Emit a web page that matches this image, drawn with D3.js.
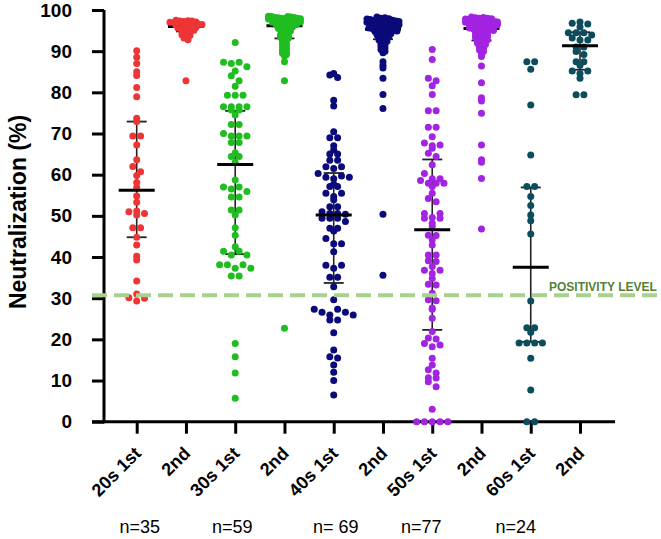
<!DOCTYPE html>
<html><head><meta charset="utf-8">
<script src="https://cdn.jsdelivr.net/npm/d3@7"></script>
<style>body{margin:0;background:#fff} svg{display:block}</style>
</head><body>
<svg id="c" width="661" height="539"></svg>
<script>
// ---------- DATA ----------
const categories = ["20s 1st","2nd","30s 1st","2nd","40s 1st","2nd","50s 1st","2nd","60s 1st","2nd"];
const yTicks = [0,10,20,30,40,50,60,70,80,90,100];
const nLabels = ["n=35","n=59","n= 69","n=77","n=24"];
const positivityLevel = 30.7;
const positivityLabel = "POSITIVITY LEVEL";
const yTitle = "Neutralization (%)";

const v20s1 = [90.1,88.5,87.0,85.0,84.1,81.2,78.9,73.7,72.9,69.4,69.4,67.2,63.6,62.0,60.7,59.8,58.1,56.9,54.8,53.3,51.2,51.0,50.6,50.2,47.1,47.1,44.8,42.9,40.2,39.3,34.2,31.0,30.1,30.0,29.3];
const v20s2 = [97.5,97.4,97.3,97.3,97.2,97.1,97.0,97.0,96.9,96.8,96.7,96.6,96.6,96.5,96.4,96.3,96.2,96.1,96.0,95.9,95.8,95.6,95.4,95.3,95.1,94.9,94.7,94.5,94.3,94.0,93.8,93.5,93.2,92.8,82.8];
const v30s1 = [92.1,87.3,87.3,87.0,86.2,85.2,84.0,82.8,81.5,79.3,79.3,79.3,76.5,76.5,76.5,76.5,75.7,75.7,74.5,72.2,72.2,70.0,69.4,69.4,69.4,67.8,67.8,65.3,64.4,64.4,63.0,58.7,57.0,57.0,56.5,55.9,54.6,54.6,51.4,51.4,50.2,47.1,45.3,42.5,41.4,41.4,40.5,40.5,38.1,38.1,38.1,37.3,37.3,35.4,35.4,19.0,15.8,11.8,5.7];
const v30s2 = [98.5,98.4,98.4,98.3,98.2,98.2,98.1,98.0,98.0,97.9,97.9,97.8,97.8,97.7,97.7,97.6,97.5,97.4,97.3,97.2,97.1,97.0,96.9,96.8,96.7,96.6,96.5,96.4,96.3,96.2,96.1,95.9,95.7,95.5,95.3,95.1,94.9,94.6,94.3,94.0,93.8,93.6,93.4,93.2,92.9,92.5,92.1,91.7,91.3,91.0,90.6,90.2,89.8,89.5,89.2,88.8,87.4,82.8,22.7];
const v40s1 = [84.6,84.2,83.6,78.1,76.7,70.4,69.0,69.0,67.0,66.0,65.0,65.0,63.5,63.5,61.9,61.9,61.5,60.3,59.4,59.4,59.7,59.0,57.7,57.1,57.1,55.5,55.5,54.7,53.9,52.2,52.2,51.0,50.6,50.6,50.4,49.4,49.4,49.4,48.6,47.0,47.0,46.3,44.5,43.2,43.2,41.3,38.0,38.0,37.3,35.1,35.1,32.8,29.6,27.3,27.3,26.6,26.6,25.9,25.9,24.7,24.7,21.6,17.4,15.8,15.5,13.8,12.0,10.0,6.5];
const v40s2 = [98.3,98.1,98.0,97.9,97.8,97.8,97.7,97.6,97.5,97.5,97.4,97.3,97.2,97.2,97.1,97.0,96.9,96.9,96.8,96.7,96.6,96.5,96.4,96.4,96.3,96.2,96.1,96.0,95.9,95.8,95.7,95.6,95.5,95.4,95.3,95.2,95.1,95.0,94.9,94.8,94.7,94.5,94.3,94.2,94.0,93.9,93.8,93.6,93.4,93.2,93.0,92.7,92.4,92.1,91.8,91.5,91.2,90.8,90.4,90.0,89.6,87.4,86.6,85.9,83.4,79.5,76.1,50.4,35.6];
const v50s1 = [90.4,88.0,83.4,82.8,81.6,79.5,75.5,75.5,71.5,71.5,69.2,67.7,67.2,67.0,66.4,65.2,64.4,62.4,60.3,59.0,59.0,58.6,57.9,57.9,57.9,57.1,55.5,54.2,53.4,50.6,50.6,49.6,49.4,49.4,48.2,47.4,45.3,45.2,44.2,42.9,40.5,40.5,39.1,38.9,37.7,36.8,36.8,36.0,34.8,33.4,33.2,31.2,29.6,29.4,27.6,27.3,25.1,21.9,20.3,20.1,19.0,18.6,18.2,15.4,13.8,12.6,11.8,10.7,10.6,9.7,8.5,3.0,0,0,0,0,0];
const v50s2 = [98.3,98.2,98.1,98.0,98.0,97.9,97.8,97.8,97.7,97.6,97.6,97.5,97.4,97.4,97.3,97.2,97.2,97.1,97.0,97.0,96.9,96.8,96.8,96.7,96.6,96.6,96.5,96.5,96.4,96.3,96.2,96.1,96.0,95.9,95.8,95.7,95.6,95.5,95.4,95.3,95.2,95.0,94.9,94.7,94.5,94.4,94.2,94.0,93.8,93.7,93.6,93.4,93.2,93.0,92.8,92.5,92.2,92.0,91.9,91.6,91.3,91.0,90.6,90.3,89.9,89.4,88.7,86.4,82.3,78.7,77.9,74.9,67.2,63.6,63.0,59.1,46.8];
const v60s1 = [87.4,87.4,85.6,76.9,64.8,57.1,57.1,54.7,52.5,50.2,48.8,45.6,29.3,22.8,22.8,21.7,19.1,19.1,19.1,19.1,15.4,7.7,0,0];
const v60s2 = [97.1,96.8,96.6,95.9,94.5,94.5,94.5,93.9,93.2,92.7,92.7,91.0,91.0,89.9,89.2,87.4,87.4,86.6,85.2,85.2,84.6,83.4,79.4,79.4];

const groupValues = [v20s1,v20s2,v30s1,v30s2,v40s1,v40s2,v50s1,v50s2,v60s1,v60s2];
const medians = [56.2,96.0,62.5,96.2,50.2,95.3,46.6,95.5,37.5,91.3];
const q1 = [44.8,94.8,40.7,93.1,33.7,92.9,22.3,92.6,19.4,85.5];
const q3 = [72.9,97.0,75.5,97.6,60.4,97.3,63.7,97.5,56.9,94.6];

// ---------- STYLE / LAYOUT ----------
const colors = ["#ee3535","#ee3535","#20bd20","#20bd20","#0a0a7a","#0a0a7a","#a323e2","#a323e2","#0b4d5c","#0b4d5c"];
const dense = [false,true,false,true,false,true,false,true,false,false];
const nOffsets = [3,-3,2,-11,-15];
const R = 3.5;
const FONT = "'Liberation Sans', Arial, sans-serif";

const svg = d3.select("#c");
const ids = categories.map((c,i)=>i);
const x = d3.scalePoint().domain(ids).range([136.7, 580]);
const y = d3.scaleLinear().domain([0,100]).range([421.7, 10]);

// y axis
const yAxis = d3.axisLeft(y).tickValues(yTicks).tickSize(12).tickPadding(20).tickFormat(d3.format("d"));
const gy = svg.append("g").attr("transform","translate(104,0)").call(yAxis);
gy.select(".domain").attr("stroke","#000").attr("stroke-width",3).attr("d","M0,"+(y(100))+"V"+(y(0)+1.5));
gy.selectAll(".tick line").attr("stroke","#000").attr("stroke-width",3);
gy.selectAll(".tick text").attr("font-family",FONT).attr("font-weight","bold").attr("font-size",19).attr("fill","#000");

// x axis
const xAxis = d3.axisBottom(x).tickSize(12).tickFormat(()=>"");
const gx = svg.append("g").attr("transform","translate(0,"+y(0)+")").call(xAxis);
gx.select(".domain").attr("stroke","#000").attr("stroke-width",3).attr("d","M92,0H615");
gx.selectAll(".tick line").attr("stroke","#000").attr("stroke-width",3);

// x labels
svg.append("g").selectAll("text").data(ids).join("text")
  .attr("transform", d=>`translate(${x(d)+1},450) rotate(-45)`)
  .attr("text-anchor","end").attr("dy","0.35em")
  .attr("font-family",FONT).attr("font-weight","bold").attr("font-size",18)
  .text(d=>categories[d]);

// n labels
svg.append("g").selectAll("text").data(nLabels).join("text")
  .attr("x",(d,i)=>x(i*2)+nOffsets[i]).attr("y",533)
  .attr("text-anchor","middle").attr("font-family",FONT).attr("font-size",18)
  .text(d=>d);

// y title
svg.append("text").attr("transform","translate(26,212) rotate(-90)")
  .attr("text-anchor","middle").attr("font-family",FONT).attr("font-weight","bold").attr("font-size",23)
  .text(yTitle);

// summary lines (median + IQR)
const sg = svg.append("g");
ids.forEach(i=>{
  const cx = x(i);
  sg.append("line").attr("x1",cx).attr("x2",cx).attr("y1",y(q3[i])).attr("y2",y(q1[i])).attr("stroke","#222").attr("stroke-width",1.6);
  [q1[i],q3[i]].forEach(q=>sg.append("line").attr("x1",cx-10).attr("x2",cx+10).attr("y1",y(q)).attr("y2",y(q)).attr("stroke","#222").attr("stroke-width",1.8));
});

// dots
function layout(vals, cx, opt){
  const pts = vals.map(v=>({v, y:y(v)})).sort((a,b)=>a.y-b.y);
  const bins = d3.group(pts, p=>Math.floor((p.y - y(100))/opt.h));
  for (const arr of bins.values()){
    const n = arr.length;
    const s = n>1 ? Math.min(opt.s, 2*opt.M/(n-1)) : 0;
    // alternate order so rows are not diagonal
    const order = arr.map((p,i)=>i).sort((a,b)=>(a%2)-(b%2) || a-b);
    order.forEach((pi,slot)=>{ arr[pi].x = cx + (slot-(n-1)/2)*s; });
  }
  return pts;
}
const dg = svg.append("g");
ids.forEach(i=>{
  const opt = dense[i] ? {h:3, s:4, M:16} : {h:6.5, s:7.8, M:20};
  const pts = layout(groupValues[i], x(i), opt);
  dg.append("g").selectAll("circle").data(pts).join("circle")
    .attr("cx",p=>p.x).attr("cy",p=>p.y).attr("r",R).attr("fill",colors[i]);
});

// medians
const mg = svg.append("g");
ids.forEach(i=>{
  const cx = x(i);
  (dense[i] ? sg : mg).append("line")
    .attr("x1",cx-18).attr("x2",cx+18).attr("y1",y(medians[i])).attr("y2",y(medians[i]))
    .attr("stroke","#000").attr("stroke-width",3);
});

// positivity line
svg.append("line").attr("x1",92).attr("x2",661).attr("y1",y(positivityLevel)).attr("y2",y(positivityLevel))
  .attr("stroke","#a9d18e").attr("stroke-width",4).attr("stroke-dasharray","15,7");
svg.append("text").attr("x",549).attr("y",291).attr("font-family",FONT).attr("font-weight","bold")
  .attr("font-size",12).attr("fill","#548235").text(positivityLabel);
</script>
</body></html>
